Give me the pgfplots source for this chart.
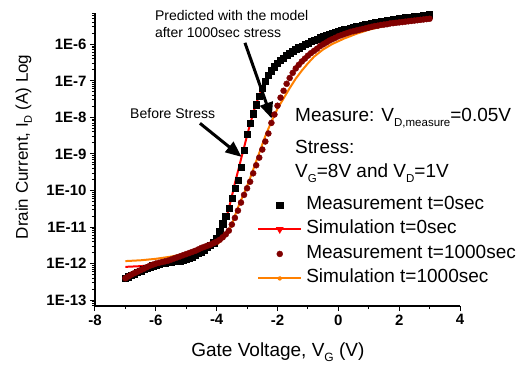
\documentclass[border=0pt]{standalone}
\usepackage{fontspec}
\setmainfont{Liberation Sans}[BoldFont={Liberation Sans Bold}]
\usepackage{pgfplots}
\pgfplotsset{compat=1.18}
\usetikzlibrary{arrows.meta}
\definecolor{maroonc}{RGB}{128,0,0}
\definecolor{orangec}{RGB}{255,128,0}
\newcommand{\fs}[1]{\fontsize{#1}{#1}\selectfont}
\newcommand{\lsub}[3]{\raisebox{-#1}{\fs{#2}#3}}
\begin{document}
\begin{tikzpicture}
\begin{axis}[
  name=ax,
  scale only axis, width=365pt, height=293pt,
  xmin=-8, xmax=4, ymode=log, ymin=6.9e-14, ymax=7.2e-6,
  axis x line*=bottom, axis y line*=left,
  axis line style={line width=1.2pt, black},
  tick align=outside, major tick length=5pt, minor tick length=3pt,
  every tick/.style={black, line width=1pt},
  xtick={-8,-6,-4,-2,0,2,4}, xticklabels={-8,-6,-4,-2,0,2,4},
  minor xtick={-7,-5,-3,-1,1,3},
  ytick={1e-13,1e-12,1e-11,1e-10,1e-9,1e-8,1e-7,1e-6},
  yticklabels={1E-13,1E-12,1E-11,1E-10,1E-9,1E-8,1E-7,1E-6},
  minor ytick={7e-14,8e-14,9e-14,
    2e-13,3e-13,4e-13,5e-13,6e-13,7e-13,8e-13,9e-13,
    2e-12,3e-12,4e-12,5e-12,6e-12,7e-12,8e-12,9e-12,
    2e-11,3e-11,4e-11,5e-11,6e-11,7e-11,8e-11,9e-11,
    2e-10,3e-10,4e-10,5e-10,6e-10,7e-10,8e-10,9e-10,
    2e-9,3e-9,4e-9,5e-9,6e-9,7e-9,8e-9,9e-9,
    2e-8,3e-8,4e-8,5e-8,6e-8,7e-8,8e-8,9e-8,
    2e-7,3e-7,4e-7,5e-7,6e-7,7e-7,8e-7,9e-7,
    2e-6,3e-6,4e-6,5e-6,6e-6,7e-6},
  tick label style={font=\bfseries\fs{15}},
  clip=false,
  xlabel={Gate Voltage, V\lsub{5pt}{12}{G} (V)},
  ylabel={Drain Current, I\lsub{4pt}{11}{D} (A) Log},
  every axis x label/.style={at={(axis description cs:0.501,-0.174)}, anchor=base, font=\fs{19}},
  every axis y label/.style={at={(axis description cs:-0.184,0.543)}, rotate=90, anchor=base, font=\fs{17}},
  legend style={at={(axis description cs:0.444,0.378)}, anchor=north west, draw=none, fill=none,
    inner sep=0pt, font=\fs{19}, row sep=5.5pt, column sep=4pt,
    nodes={inner sep=0pt, text height=14pt, text depth=5pt, anchor=west}},
  legend cell align=left,
  legend image code/.code={\draw[mark repeat=2,mark phase=2,#1] plot coordinates {(0pt,0pt) (21.5pt,0pt) (43pt,0pt)};},
]
% Measurement t=0sec
\addplot[forget plot, only marks, mark=square*, mark size=3.1pt, black] coordinates {
(-7.0,3.98e-13)(-6.9,4.37e-13)(-6.8,4.79e-13)(-6.7,5.25e-13)(-6.6,5.75e-13)(-6.5,6.31e-13)(-6.4,6.92e-13)(-6.3,7.59e-13)(-6.2,8.13e-13)(-6.1,8.71e-13)(-6.0,9.12e-13)(-5.9,9.55e-13)(-5.8,1.00e-12)(-5.7,1.05e-12)(-5.6,1.10e-12)(-5.5,1.12e-12)(-5.4,1.15e-12)(-5.3,1.17e-12)(-5.2,1.20e-12)(-5.1,1.23e-12)(-5.0,1.29e-12)(-4.9,1.38e-12)(-4.8,1.51e-12)(-4.7,1.70e-12)(-4.6,1.91e-12)(-4.5,2.09e-12)(-4.4,2.40e-12)(-4.3,2.75e-12)(-4.2,3.16e-12)(-4.1,3.72e-12)(-4.0,5.01e-12)(-3.9,7.59e-12)(-3.8,1.23e-11)(-3.7,2.00e-11)(-3.6,3.24e-11)(-3.5,6.31e-11)(-3.4,1.15e-10)(-3.3,1.91e-10)(-3.2,4.27e-10)(-3.1,1.26e-9)(-3.0,3.47e-9)(-2.9,6.92e-9)(-2.8,1.26e-8)(-2.7,2.24e-8)(-2.6,3.80e-8)(-2.5,6.31e-8)(-2.4,1.00e-7)(-2.3,1.41e-7)(-2.2,1.91e-7)(-2.1,2.45e-7)(-2.0,3.02e-7)(-1.9,3.63e-7)(-1.8,4.27e-7)(-1.7,5.01e-7)(-1.6,5.75e-7)(-1.5,6.46e-7)(-1.4,7.24e-7)(-1.3,8.13e-7)(-1.2,8.91e-7)(-1.1,1.00e-6)(-1.0,1.10e-6)(-0.9,1.20e-6)(-0.8,1.29e-6)(-0.7,1.41e-6)(-0.6,1.51e-6)(-0.5,1.62e-6)(-0.4,1.74e-6)(-0.3,1.86e-6)(-0.2,2.00e-6)(-0.1,2.14e-6)(0.0,2.29e-6)(0.1,2.40e-6)(0.2,2.51e-6)(0.3,2.63e-6)(0.4,2.75e-6)(0.5,2.88e-6)(0.6,3.02e-6)(0.7,3.16e-6)(0.8,3.31e-6)(0.9,3.47e-6)(1.0,3.63e-6)(1.1,3.80e-6)(1.2,3.89e-6)(1.3,4.07e-6)(1.4,4.17e-6)(1.5,4.37e-6)(1.6,4.47e-6)(1.7,4.68e-6)(1.8,4.79e-6)(1.9,4.90e-6)(2.0,5.13e-6)(2.1,5.25e-6)(2.2,5.37e-6)(2.3,5.50e-6)(2.4,5.62e-6)(2.5,5.75e-6)(2.6,5.89e-6)(2.7,6.03e-6)(2.8,6.17e-6)(2.9,6.31e-6)(3.0,6.46e-6)
};
% Measurement t=1000sec
\addplot[forget plot, only marks, mark=*, mark size=3pt, draw=maroonc, fill=maroonc] coordinates {
(-7.0,3.98e-13)(-6.9,4.47e-13)(-6.8,5.01e-13)(-6.7,5.50e-13)(-6.6,6.03e-13)(-6.5,6.61e-13)(-6.4,7.24e-13)(-6.3,7.94e-13)(-6.2,8.71e-13)(-6.1,9.33e-13)(-6.0,1.00e-12)(-5.9,1.05e-12)(-5.8,1.10e-12)(-5.7,1.15e-12)(-5.6,1.20e-12)(-5.5,1.29e-12)(-5.4,1.38e-12)(-5.3,1.48e-12)(-5.2,1.58e-12)(-5.1,1.70e-12)(-5.0,1.82e-12)(-4.9,1.95e-12)(-4.8,2.09e-12)(-4.7,2.24e-12)(-4.6,2.45e-12)(-4.5,2.69e-12)(-4.4,2.88e-12)(-4.3,3.09e-12)(-4.2,3.31e-12)(-4.1,3.63e-12)(-4.0,3.98e-12)(-3.9,4.47e-12)(-3.8,5.25e-12)(-3.7,6.31e-12)(-3.6,7.94e-12)(-3.5,1.17e-11)(-3.4,1.78e-11)(-3.3,2.82e-11)(-3.2,4.68e-11)(-3.1,7.59e-11)(-3.0,1.15e-10)(-2.9,1.74e-10)(-2.8,2.95e-10)(-2.7,4.90e-10)(-2.6,7.94e-10)(-2.5,1.32e-9)(-2.4,2.19e-9)(-2.3,3.63e-9)(-2.2,7.08e-9)(-2.1,1.20e-8)(-2.0,2.09e-8)(-1.9,3.47e-8)(-1.8,5.37e-8)(-1.7,8.32e-8)(-1.6,1.20e-7)(-1.5,1.66e-7)(-1.4,2.19e-7)(-1.3,2.75e-7)(-1.2,3.39e-7)(-1.1,4.07e-7)(-1.0,4.90e-7)(-0.9,5.75e-7)(-0.8,6.61e-7)(-0.7,7.59e-7)(-0.6,8.91e-7)(-0.5,1.00e-6)(-0.4,1.12e-6)(-0.3,1.26e-6)(-0.2,1.38e-6)(-0.1,1.51e-6)(0.0,1.66e-6)(0.1,1.78e-6)(0.2,1.91e-6)(0.3,2.04e-6)(0.4,2.19e-6)(0.5,2.29e-6)(0.6,2.40e-6)(0.7,2.51e-6)(0.8,2.63e-6)(0.9,2.75e-6)(1.0,2.88e-6)(1.1,3.02e-6)(1.2,3.16e-6)(1.3,3.24e-6)(1.4,3.39e-6)(1.5,3.47e-6)(1.6,3.55e-6)(1.7,3.72e-6)(1.8,3.80e-6)(1.9,3.89e-6)(2.0,3.98e-6)(2.1,4.07e-6)(2.2,4.17e-6)(2.3,4.27e-6)(2.4,4.37e-6)(2.5,4.47e-6)(2.6,4.57e-6)(2.7,4.68e-6)(2.8,4.79e-6)(2.9,4.90e-6)(3.0,5.01e-6)
};
% Simulation t=0sec
\addplot[forget plot, red, line width=2pt, line join=round] coordinates {
(-7.0,8.13e-13)(-6.5,8.51e-13)(-6.0,9.12e-13)(-5.5,1.05e-12)(-5.0,1.32e-12)(-4.7,1.74e-12)(-4.5,2.24e-12)(-4.3,3.02e-12)(-4.1,4.17e-12)(-4.0,5.01e-12)(-3.9,6.31e-12)(-3.8,9.12e-12)(-3.7,1.6e-11)(-3.6,3.2e-11)(-3.5,7.0e-11)(-3.4,1.6e-10)(-3.3,3.35e-10)(-3.2,7.2e-10)(-3.1,1.5e-9)(-3.0,3.2e-9)(-2.9,6.5e-9)(-2.8,1.3e-8)(-2.7,2.4e-8)(-2.6,4.0e-8)(-2.5,6.2e-8)(-2.4,9.0e-8)(-2.3,1.23e-7)(-2.2,1.62e-7)(-2.0,2.51e-7)(-1.8,3.63e-7)(-1.5,5.37e-7)(-1.2,7.59e-7)(-0.8,1.10e-6)(-0.4,1.48e-6)(0.0,1.95e-6)(0.5,2.69e-6)(1.0,3.55e-6)(1.5,4.37e-6)(2.0,5.13e-6)(2.5,5.89e-6)(3.0,6.61e-6)
};
% Simulation t=1000sec
\addplot[forget plot, orangec, line width=2pt, line join=round] coordinates {
(-7.0,1.17e-12)(-6.5,1.23e-12)(-6.0,1.35e-12)(-5.5,1.55e-12)(-5.0,1.91e-12)(-4.5,2.51e-12)(-4.2,3.02e-12)(-3.95,3.55e-12)(-3.8,4.79e-12)(-3.62,7.41e-12)(-3.5,1.17e-11)(-3.4,2.04e-11)(-3.25,4.37e-11)(-3.1,8.32e-11)(-3.0,1.32e-10)(-2.9,2.19e-10)(-2.8,3.72e-10)(-2.7,6.31e-10)(-2.6,1.07e-9)(-2.5,1.82e-9)(-2.4,3.09e-9)(-2.3,4.90e-9)(-2.2,7.59e-9)(-2.1,1.15e-8)(-2.0,1.74e-8)(-1.9,2.40e-8)(-1.8,3.31e-8)(-1.6,6.31e-8)(-1.4,1.15e-7)(-1.2,1.91e-7)(-1.0,3.02e-7)(-0.8,4.57e-7)(-0.5,7.24e-7)(-0.2,1.02e-6)(0.2,1.45e-6)(0.6,1.95e-6)(1.0,2.51e-6)(1.5,3.16e-6)(2.0,3.72e-6)(2.5,4.17e-6)(3.0,4.68e-6)
};
\addlegendimage{only marks, mark=square*, mark size=3.1pt, black}
\addlegendentry{Measurement t=0sec}
\addlegendimage{red, line width=2pt, mark=triangle*, mark size=2.5pt, mark options={rotate=180}}
\addlegendentry{Simulation t=0sec}
\addlegendimage{only marks, mark=*, mark size=3pt, draw=maroonc, fill=maroonc}
\addlegendentry{Measurement t=1000sec}
\addlegendimage{orangec, line width=2pt, mark=star, mark size=2pt}
\addlegendentry{Simulation t=1000sec}
% annotations
\draw[line width=3pt, -{Triangle[length=16pt,width=13pt]}] (axis cs:-4.55,6.9e-9) -- (axis cs:-3.18,8.3e-10);
\draw[line width=3pt, -{Triangle[length=16pt,width=13pt]}] (axis cs:-3.07,1.1e-6) -- (axis cs:-2.19,9.3e-9);
\node[anchor=base west, font=\fs{14}, inner sep=0pt] at (axis description cs:0.164,0.976) {Predicted with the model};
\node[anchor=base west, font=\fs{14}, inner sep=0pt] at (axis description cs:0.164,0.918) {after 1000sec stress};
\node[anchor=base west, font=\fs{14}, inner sep=0pt] at (axis description cs:0.096,0.641) {Before Stress};
\node[anchor=base west, font=\fs{19}, inner sep=0pt] at (axis description cs:0.548,0.629) {Measure: V\lsub{5pt}{11.5}{D,measure}=0.05V};
\node[anchor=base west, font=\fs{19}, inner sep=0pt] at (axis description cs:0.548,0.521) {Stress:};
\node[anchor=base west, font=\fs{19}, inner sep=0pt] at (axis description cs:0.548,0.437) {V\lsub{5pt}{11.5}{G}=8V and V\lsub{5pt}{11.5}{D}=1V};
\end{axis}
\pgfresetboundingbox
\path (ax.south west) ++(-95pt,-58pt) rectangle ++(527pt,364pt);
\end{tikzpicture}
\end{document}
